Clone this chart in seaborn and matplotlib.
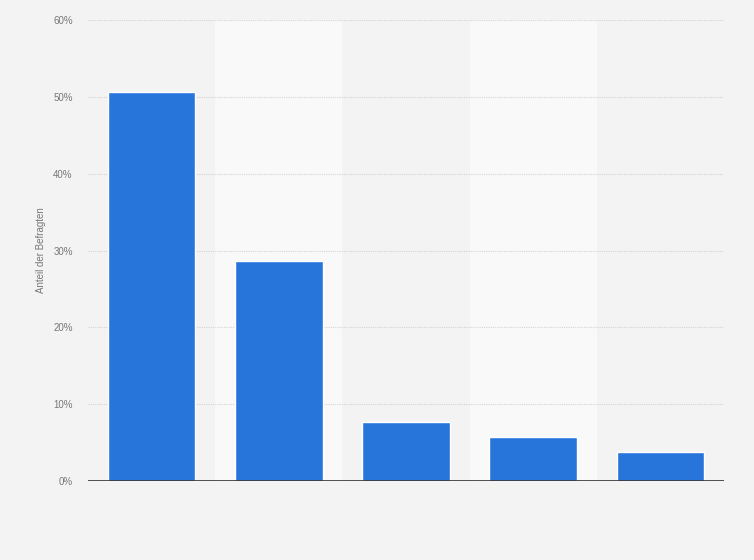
import matplotlib

matplotlib.use("Agg")
import matplotlib.pyplot as plt
import pandas as pd
import seaborn as sns
from matplotlib.ticker import PercentFormatter

# Values (share of respondents, %)
CATEGORIES = ["A", "B", "C", "D", "E"]
SHARES = [50.6, 28.6, 7.7, 5.7, 3.8]
Y_TICKS = [0, 10, 20, 30, 40, 50, 60]

BAR_COLOR = "#2775db"
BG_COLOR = "#f3f3f3"
BAND_COLOR = "#f9f9f9"


def main():
    df = pd.DataFrame({"category": CATEGORIES, "share": SHARES})

    sns.set_style("white")
    plt.rcParams["font.family"] = ["Liberation Sans", "DejaVu Sans"]
    fig = plt.figure(figsize=(7.54, 5.6), dpi=100, facecolor=BG_COLOR)
    ax = fig.add_axes([0.1167, 0.141, 0.8435, 0.823])
    ax.set_facecolor(BG_COLOR)

    # lighter background band behind every second column
    for i in range(len(CATEGORIES)):
        if i % 2 == 1:
            ax.axvspan(i - 0.5, i + 0.5, color=BAND_COLOR, zorder=0, lw=0)

    sns.barplot(
        data=df, x="category", y="share", color=BAR_COLOR,
        saturation=1, width=0.69, ax=ax, zorder=2,
    )

    ax.set_xlim(-0.5, len(CATEGORIES) - 0.5)
    ax.set_ylim(0, 60)
    ax.set_yticks(Y_TICKS)
    ax.yaxis.set_major_formatter(PercentFormatter(decimals=0))
    ax.yaxis.grid(True, linestyle=(0, (1, 1)), color="#d4d4d4", lw=0.8, zorder=1)
    ax.set_axisbelow(True)
    ax.axhline(0, color="#333333", lw=1.2, zorder=3)

    ax.set_xticks([])
    ax.set_xlabel("")
    ax.set_ylabel("Anteil der Befragten", fontsize=7, color="#777777")
    ax.yaxis.set_label_coords(-42 / 636, 0.5)
    ax.tick_params(axis="y", length=0, labelsize=7, labelcolor="#777777", pad=11)
    for spine in ax.spines.values():
        spine.set_visible(False)

    fig.savefig("out.png", dpi=100, facecolor=BG_COLOR)
    plt.close(fig)


if __name__ == "__main__":
    main()
